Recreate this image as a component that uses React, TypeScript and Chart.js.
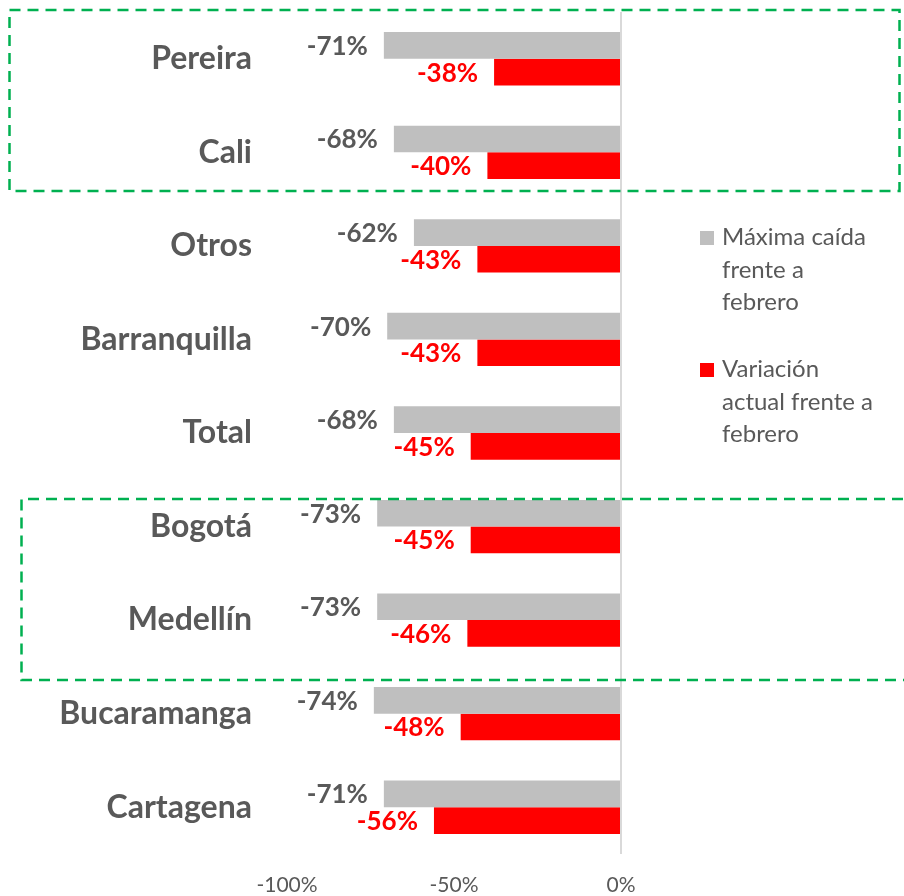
import React, { useEffect, useRef } from "react";
import { Chart, registerables } from "chart.js";

Chart.register(...registerables);

const categories = ["Pereira", "Cali", "Otros", "Barranquilla", "Total", "Bogotá", "Medellín", "Bucaramanga", "Cartagena"];
const maxDrop = [-71, -68, -62, -70, -68, -73, -73, -74, -71];
const currentVar = [-38, -40, -43, -43, -45, -45, -46, -48, -56];
const seriesNames = ["Máxima caída frente a febrero", "Variación actual frente a febrero"];
const legendLines = [
  ["Máxima caída", "frente a", "febrero"],
  ["Variación", "actual frente a", "febrero"],
];
const xTicks = [-100, -50, 0];

const GRAY = "#bfbfbf";
const RED = "#ff0000";
const TEXT = "#595959";
const GREEN = "#00b050";
const FONT = "Lato, 'Open Sans', sans-serif";

const labelPlugin = {
  id: "barLabels",
  afterDatasetsDraw(chart: any) {
    const ctx = chart.ctx;
    ctx.save();
    chart.data.datasets.forEach((ds: any, di: number) => {
      const meta = chart.getDatasetMeta(di);
      meta.data.forEach((bar: any, i: number) => {
        const v = ds.data[i];
        ctx.font = `bold 26px ${FONT}`;
        ctx.fillStyle = di === 0 ? TEXT : RED;
        ctx.textAlign = "right";
        ctx.textBaseline = "middle";
        ctx.fillText(`${v}%`, bar.x - 16, bar.y + 1);
      });
    });
    ctx.restore();
  },
};

const legendPlugin = {
  id: "sideLegend",
  afterDraw(chart: any) {
    const ctx = chart.ctx;
    ctx.save();
    const colors = [GRAY, RED];
    const x0 = chart.chartArea.right + 79;
    const starts = [245, 377];
    ctx.font = `24px ${FONT}`;
    ctx.textAlign = "left";
    ctx.textBaseline = "alphabetic";
    legendLines.forEach((lines, k) => {
      ctx.fillStyle = colors[k];
      ctx.fillRect(x0, starts[k] - 14, 14, 14);
      ctx.fillStyle = TEXT;
      lines.forEach((ln, j) => {
        ctx.fillText(ln, x0 + 22, starts[k] + j * 32.5);
      });
    });
    ctx.restore();
  },
};

const boxesPlugin = {
  id: "dashedBoxes",
  afterDraw(chart: any) {
    const ctx = chart.ctx;
    ctx.save();
    ctx.strokeStyle = GREEN;
    ctx.lineWidth = 2.5;
    ctx.setLineDash([11, 7]);
    // highlight groups: Pereira–Cali and Bogotá–Medellín
    ctx.strokeRect(9.5, 10, 890, 181);
    ctx.beginPath();
    ctx.moveTo(921, 499);
    ctx.lineTo(21.5, 499);
    ctx.lineTo(21.5, 680);
    ctx.lineTo(921, 680);
    ctx.stroke();
    ctx.restore();
  },
};

export default function App() {
  const ref = useRef<HTMLCanvasElement>(null);
  useEffect(() => {
    document.body.style.margin = "0";
    const chart = new Chart(ref.current!, {
      type: "bar",
      data: {
        labels: categories,
        datasets: [
          { label: seriesNames[0], data: maxDrop, backgroundColor: GRAY, barPercentage: 1, categoryPercentage: 0.57 },
          { label: seriesNames[1], data: currentVar, backgroundColor: RED, barPercentage: 1, categoryPercentage: 0.57 },
        ],
      },
      options: {
        indexAxis: "y",
        animation: false,
        responsive: false,
        layout: { autoPadding: false, padding: { top: 12, right: 283, left: 0, bottom: 0 } },
        plugins: { legend: { display: false }, tooltip: { enabled: false } },
        scales: {
          x: {
            min: -100,
            max: 0,
            afterBuildTicks: (axis: any) => {
              axis.ticks = xTicks.map((v) => ({ value: v }));
            },
            afterFit: (axis: any) => {
              axis.height = 42;
              axis.paddingLeft = 0;
              axis.paddingRight = 0;
              axis.paddingTop = 0;
              axis.paddingBottom = 0;
            },
            border: { display: false },
            grid: {
              drawTicks: false,
              lineWidth: 2,
              color: (c: any) => (c.tick && c.tick.value === 0 ? "#d9d9d9" : "rgba(0,0,0,0)"),
            },
            ticks: {
              padding: 19,
              color: TEXT,
              font: { family: FONT, size: 21 },
              callback: (v: any) => `${v}%`,
              maxRotation: 0,
            },
          },
          y: {
            afterFit: (axis: any) => {
              axis.width = 287;
              axis.paddingLeft = 0;
              axis.paddingRight = 0;
              axis.paddingTop = 0;
              axis.paddingBottom = 0;
            },
            border: { display: false },
            grid: { display: false, drawTicks: false },
            ticks: {
              padding: 35,
              color: TEXT,
              font: { family: FONT, size: 32, weight: "bold" },
            },
          },
        },
      },
      plugins: [labelPlugin, legendPlugin, boxesPlugin],
    } as any);
    return () => chart.destroy();
  }, []);
  return <canvas ref={ref} width={904} height={896} style={{ display: "block" }} />;
}
